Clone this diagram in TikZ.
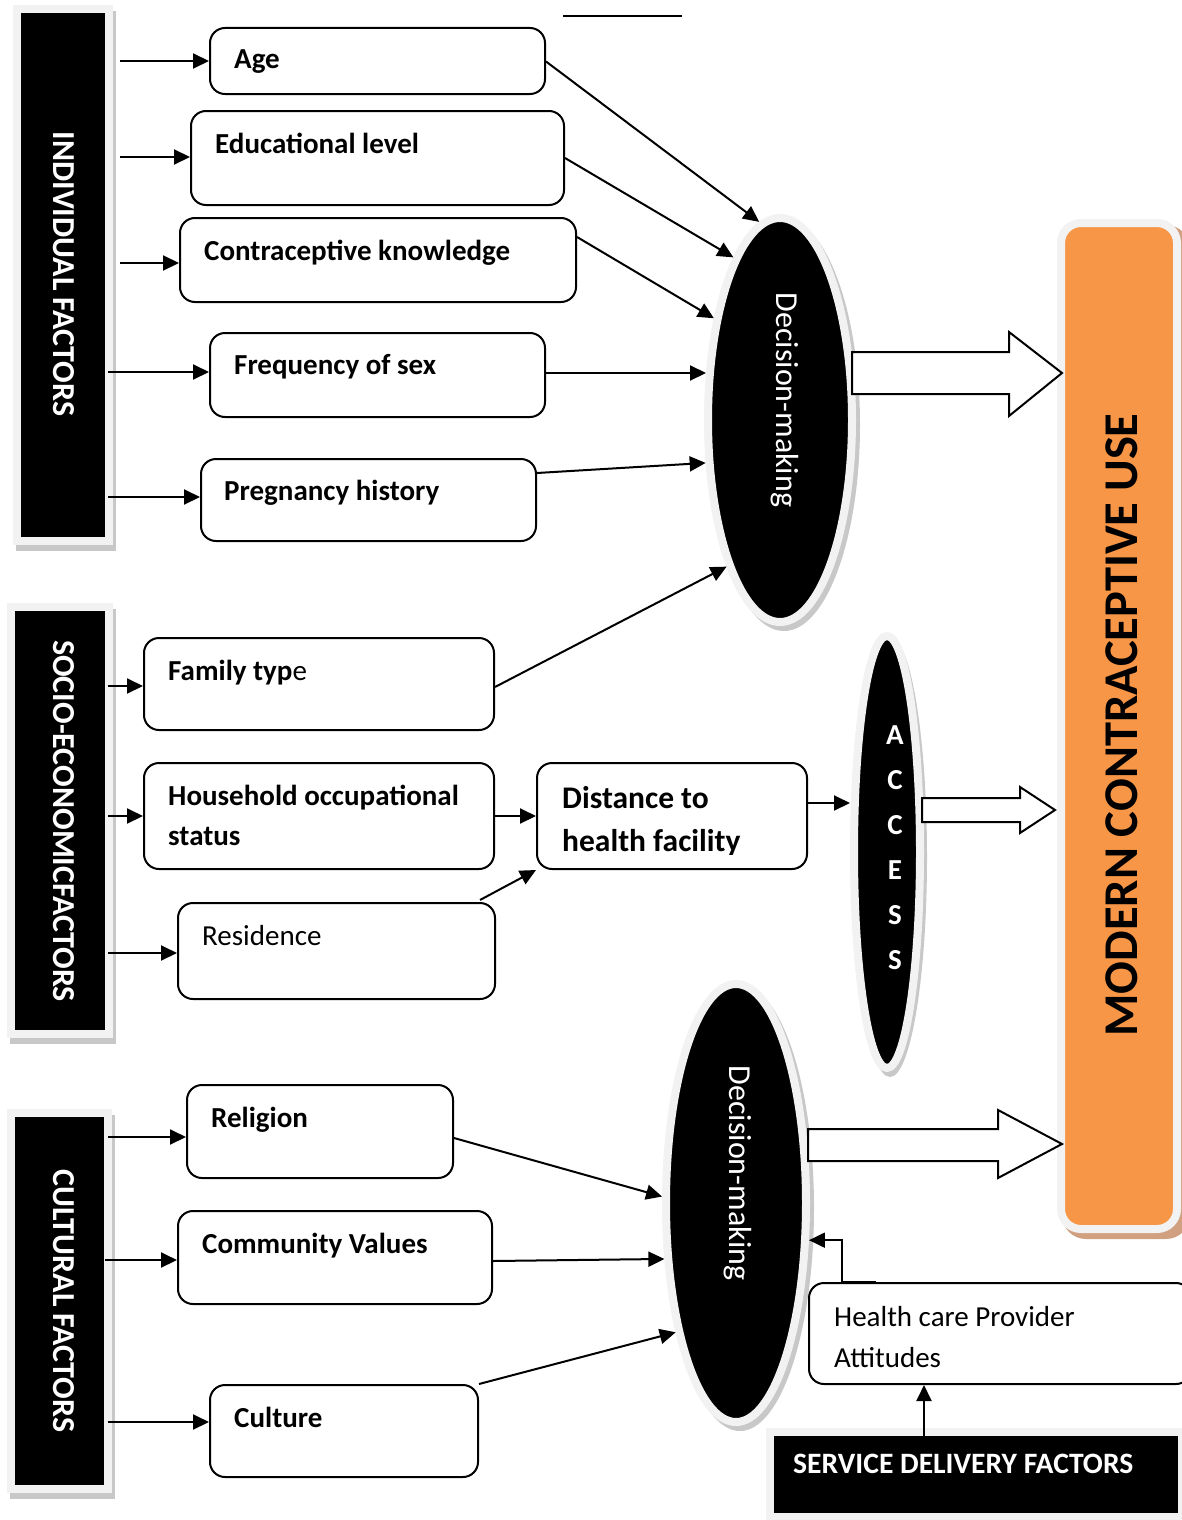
\documentclass[tikz,border=0pt]{standalone}
\usepackage{fontspec}
\setmainfont{Carlito}
\usetikzlibrary{arrows.meta,shapes.geometric,calc}
\definecolor{lightb}{HTML}{F2F2F2}
\definecolor{shad}{HTML}{C8C8C8}
\definecolor{orng}{HTML}{F79646}
\definecolor{tanshad}{RGB}{208,160,128}
\begin{document}
\begin{tikzpicture}[x=1pt,y=-1pt,
 box/.style={draw=black, line width=2pt, rounded corners=15pt, fill=white, inner sep=0pt, anchor=north west},
 lbl/.style={font=\fontsize{29}{35}\selectfont\bfseries, inner sep=0pt, anchor=base west},
 rlbl/.style={font=\fontsize{29}{35}\selectfont, inner sep=0pt, anchor=base west},
 arr/.style={line width=2pt, -{Triangle[length=16pt,width=15pt]}},
 side/.style={fill=black, draw=lightb, line width=8pt, inner sep=0pt, outer sep=4pt},
 sidetxt/.style={text=white, font=\fontsize{32}{38}\selectfont\bfseries, inner sep=0pt},
 oval/.style={ellipse, fill=black, draw=lightb, line width=8pt, inner sep=0pt, outer sep=4pt},
 ovalshadow/.style={ellipse, fill=shad, draw=none, inner sep=0pt},
 dmtxt/.style={text=white, font=\fontsize{32}{38}\selectfont, inner sep=0pt},
 acctxt/.style={text=white, font=\fontsize{29}{35}\selectfont\bfseries, inner sep=0pt, anchor=base},
 blockarr/.style={draw=black, line width=2pt, fill=white, line join=miter}
]
\useasboundingbox (0,0) rectangle (1182,1520);
\fill[white] (0,0) rectangle (1182,1520);

% stray line at top
\draw[line width=1.8pt] (563,16) -- (682,16);

% ---------- side bars ----------
\fill[shad] (16,11) rectangle (116,551);
\node[side, minimum width=92pt, minimum height=532pt] (ind) at (63,275) {};
\node[sidetxt, rotate=-90] (indt) at (64,274) {INDIVIDUAL FACTORS};

\fill[shad] (10,609) rectangle (116,1044);
\node[side, minimum width=98pt, minimum height=427pt] (soc) at (60,820.5) {};
\node[sidetxt, rotate=-90] (soct) at (64,821) {SOCIO-ECONOMICFACTORS};

\fill[shad] (10,1115) rectangle (115,1499);
\node[side, minimum width=97pt, minimum height=376pt] (cul) at (59.5,1301) {};
\node[sidetxt, rotate=-90] (cult) at (64,1301) {CULTURAL FACTORS};

\node[side, minimum width=412pt, minimum height=85pt] (sdf) at (976,1474.5) {};
\node[text=white, font=\fontsize{29.6}{35}\selectfont\bfseries, inner sep=0pt, anchor=base west] (sdft) at (793,1473) {SERVICE DELIVERY FACTORS};

% ---------- orange box ----------
\fill[tanshad, rounded corners=24pt] (1062,225) rectangle (1190,1239);
\node[fill=orng, draw=lightb, line width=8pt, rounded corners=20pt, minimum width=116pt, minimum height=1006pt, inner sep=0pt] (mcu) at (1119,726) {};
\node[font=\fontsize{48.5}{56}\selectfont\bfseries, rotate=90, inner sep=0pt] (mcut) at (1122,725) {MODERN CONTRACEPTIVE USE};

% ---------- ellipses ----------
\node[ovalshadow, minimum width=152pt, minimum height=412pt] (dm1s) at (784,425) {};
\node[oval, minimum width=144pt, minimum height=404pt] (dm1) at (780,420) {};
\node[dmtxt, rotate=-90] (dm1t) at (785,400) {Decision-making};

\node[ovalshadow, minimum width=74pt, minimum height=440pt] (accs) at (890,857) {};
\node[oval, minimum width=66pt, minimum height=432pt] (acc) at (887,852) {};
\node[acctxt] (a1) at (895,744) {A};
\node[acctxt] (a2) at (895,789) {C};
\node[acctxt] (a3) at (895,834) {C};
\node[acctxt] (a4) at (895,879) {E};
\node[acctxt] (a5) at (895,924) {S};
\node[acctxt] (a6) at (895,969) {S};

\node[ovalshadow, minimum width=148pt, minimum height=446pt] (dm2s) at (740,1208) {};
\node[oval, minimum width=140pt, minimum height=438pt] (dm2) at (736,1203) {};
\node[dmtxt, rotate=-90] (dm2t) at (738,1173) {Decision-making};

% ---------- block arrows ----------
\draw[blockarr] (852,352) -- (1009,352) -- (1009,332) -- (1062,373) -- (1009,416) -- (1009,394) -- (852,394) -- cycle;
\draw[blockarr] (922,798) -- (1020,798) -- (1020,787) -- (1055,810) -- (1020,833) -- (1020,822) -- (922,822) -- cycle;
\draw[blockarr] (808,1129) -- (998,1129) -- (998,1110) -- (1062,1144) -- (998,1178) -- (998,1161) -- (808,1161) -- cycle;

% ---------- boxes ----------
\node[box, minimum width=335pt, minimum height=66pt] (age) at (209,27) {};
\node[lbl] (aget) at (234,69) {Age};
\node[box, minimum width=373pt, minimum height=94pt] (edu) at (190,110) {};
\node[lbl] (edut) at (215,153) {Educational level};
\node[box, minimum width=396pt, minimum height=84pt] (con) at (179,217) {};
\node[lbl] (cont) at (204,260) {Contraceptive knowledge};
\node[box, minimum width=335pt, minimum height=84pt] (frq) at (209,332) {};
\node[lbl] (frqt) at (234,374) {Frequency of sex};
\node[box, minimum width=335pt, minimum height=82pt] (prg) at (200,458) {};
\node[lbl] (prgt) at (224,500) {Pregnancy history};

\node[box, minimum width=350pt, minimum height=92pt] (fam) at (143,637) {};
\node[lbl] (famt) at (168,680) {Family typ\mdseries e};
\node[box, minimum width=350pt, minimum height=106pt] (hou) at (143,762) {};
\node[lbl] (hout1) at (168,805) {Household occupational};
\node[lbl] (hout2) at (168,845) {status};
\node[box, minimum width=270pt, minimum height=106pt] (dis) at (536,762) {};
\node[lbl, font=\fontsize{31.5}{38}\selectfont\bfseries] (dist1) at (562,808) {Distance to};
\begin{scope}
\clip (536,762) rectangle (806,854);
\node[lbl, font=\fontsize{31.5}{38}\selectfont\bfseries] (dist2) at (562,851) {health facility};
\end{scope}
\node[box, minimum width=317pt, minimum height=96pt] (res) at (177,902) {};
\node[rlbl] (rest) at (202,945) {Residence};

\node[box, minimum width=266pt, minimum height=93pt] (rel) at (186,1084) {};
\node[lbl] (relt) at (211,1127) {Religion};
\node[box, minimum width=314pt, minimum height=93pt] (com) at (177,1210) {};
\node[lbl] (comt) at (202,1253) {Community Values};
\node[box, minimum width=268pt, minimum height=92pt] (cur) at (209,1384) {};
\node[lbl] (curt) at (234,1427) {Culture};

\node[box, minimum width=382pt, minimum height=101pt] (hcp) at (808,1282) {};
\node[rlbl] (hcpt1) at (834,1326) {Health care Provider};
\node[rlbl] (hcpt2) at (834,1367) {Attitudes};

% ---------- connectors from side bars ----------
\coordinate (s1) at (120,61);
\coordinate (s2) at (120,157);
\coordinate (s3) at (120,263);
\coordinate (s4) at (108,372);
\coordinate (s5) at (108,497);
\coordinate (s6) at (108,686);
\coordinate (s7) at (108,816);
\coordinate (s8) at (108,953);
\coordinate (s9) at (108,1137);
\coordinate (s10) at (105,1260);
\coordinate (s11) at (108,1422);
\draw[arr] (s1) -- (s1 -| age.west);
\draw[arr] (s2) -- (s2 -| edu.west);
\draw[arr] (s3) -- (s3 -| con.west);
\draw[arr] (s4) -- (s4 -| frq.west);
\draw[arr] (s5) -- (s5 -| prg.west);
\draw[arr] (s6) -- (s6 -| fam.west);
\draw[arr] (s7) -- (s7 -| hou.west);
\draw[arr] (s8) -- (s8 -| res.west);
\draw[arr] (s9) -- (s9 -| rel.west);
\draw[arr] (s10) -- (s10 -| com.west);
\draw[arr] (s11) -- (s11 -| cur.west);

% ---------- connectors to decision-making (top) ----------
\draw[arr] ([yshift=-0.5pt]age.east) -- (dm1.96.4);
\draw[arr] (edu.east) -- (dm1.106);
\draw[arr] ([yshift=23pt]con.east) -- (dm1.123);
\coordinate (f0) at ([yshift=2pt]frq.east);
\draw[arr] (f0) -- ([xshift=2pt]f0 -| dm1.west);
\draw[arr] ([yshift=27pt]prg.east) -- (dm1.210.3);
\draw[arr] ([yshift=-3pt]fam.east) -- (dm1.250.4);

% ---------- access ----------
\draw[arr] (hou.east) -- (hou.east -| dis.west);
\draw[arr] ([xshift=-16pt,yshift=2pt]res.north east) -- (dis.south west);
\coordinate (d0) at ([yshift=13pt]dis.east);
\draw[arr] (d0) -- (d0 -| acc.west);

% ---------- connectors to decision-making (bottom) ----------
\draw[arr] ([yshift=-6.5pt]rel.east) -- (dm2.175.3);
\draw[arr] ([yshift=-3.5pt]com.east) -- (dm2.218);
\draw[arr] (cur.north east) -- (dm2.245.6);
\coordinate (hp1) at (876,1282);
\draw[arr] (hp1) -- ++(-34,0) |- (dm2.-27.5);
\coordinate (sd1) at (924,1436);
\draw[arr] (sd1) -- (sd1 |- hcp.south);
\end{tikzpicture}
\end{document}
